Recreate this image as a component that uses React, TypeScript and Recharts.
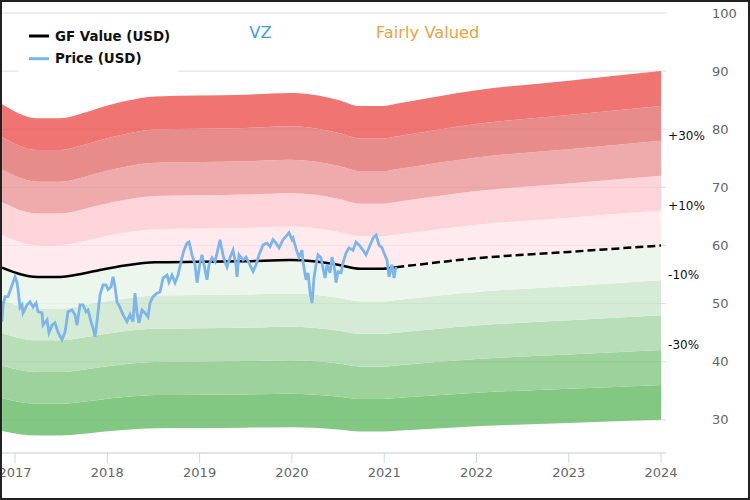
import React from "react";
import {
  ComposedChart,
  Area,
  Line,
  XAxis,
  YAxis,
  CartesianGrid,
  ReferenceLine,
  ReferenceDot,
} from "recharts";

const years = [2017, 2018, 2019, 2020, 2021, 2022, 2023, 2024];
const yTicks = [30, 40, 50, 60, 70, 80, 90, 100];

// GF Value (USD), decimal year -> value
const gfDates = [
  2016.86, 2017.24, 2017.49, 2017.74, 2017.92, 2018.21, 2018.52, 2019.0, 2019.5,
  2019.98, 2020.23, 2020.5, 2020.74, 2020.99, 2021.13, 2022.0, 2023.0, 2024.0,
];
const gfValues = [
  56.2, 54.6, 54.6, 55.2, 55.8, 56.6, 57.1, 57.2, 57.3, 57.5, 57.3, 56.7, 56.0,
  56.0, 56.25, 57.8, 58.9, 60.0,
];
const gfSplit = 2021.13; // solid up to here, estimate (dashed) after

// Price (USD)
const priceDates = [
  2016.859, 2016.87, 2016.892, 2016.924, 2016.968, 2017.0, 2017.022, 2017.033, 2017.054, 2017.076,
  2017.087, 2017.13, 2017.163, 2017.195, 2017.228, 2017.249, 2017.293, 2017.303, 2017.347, 2017.368,
  2017.401, 2017.433, 2017.466, 2017.509, 2017.542, 2017.574, 2017.618, 2017.65, 2017.672, 2017.704,
  2017.737, 2017.769, 2017.791, 2017.823, 2017.845, 2017.867, 2017.888, 2017.921, 2017.953, 2017.986,
  2018.008, 2018.04, 2018.062, 2018.083, 2018.105, 2018.138, 2018.17, 2018.213, 2018.246, 2018.278,
  2018.3, 2018.322, 2018.343, 2018.376, 2018.408, 2018.441, 2018.462, 2018.495, 2018.538, 2018.571,
  2018.604, 2018.647, 2018.668, 2018.701, 2018.734, 2018.766, 2018.809, 2018.831, 2018.863, 2018.885,
  2018.918, 2018.95, 2018.972, 2019.004, 2019.026, 2019.048, 2019.08, 2019.102, 2019.134, 2019.167,
  2019.189, 2019.221, 2019.253, 2019.275, 2019.297, 2019.329, 2019.362, 2019.394, 2019.405, 2019.427,
  2019.47, 2019.503, 2019.535, 2019.579, 2019.611, 2019.644, 2019.687, 2019.73, 2019.763, 2019.795,
  2019.828, 2019.86, 2019.904, 2019.947, 2019.969, 2020.001, 2020.012, 2020.055, 2020.077, 2020.11,
  2020.12, 2020.153, 2020.175, 2020.196, 2020.218, 2020.239, 2020.261, 2020.283, 2020.315, 2020.337,
  2020.359, 2020.38, 2020.413, 2020.434, 2020.456, 2020.478, 2020.499, 2020.532, 2020.554, 2020.586,
  2020.619, 2020.662, 2020.694, 2020.727, 2020.77, 2020.803, 2020.835, 2020.879, 2020.911, 2020.944,
  2020.976, 2020.998, 2021.03, 2021.052, 2021.084, 2021.106, 2021.128,
];
const priceValues = [
  46.9, 49.8, 51.2, 51.2, 53.2, 54.6, 53.6, 52.4, 49.3, 49.8,
  48.4, 49.8, 50.3, 49.4, 50.1, 48.6, 48.4, 46.3, 47.2, 45.0,
  46.3, 46.7, 45.1, 43.8, 45.1, 48.6, 48.9, 48.1, 46.3, 49.8,
  49.8, 48.6, 48.9, 46.9, 45.8, 44.3, 46.9, 51.5, 53.2, 53.2,
  52.4, 52.9, 54.6, 52.9, 50.3, 49.3, 48.1, 46.9, 48.1, 46.9,
  51.8, 48.4, 46.7, 48.9, 48.4, 47.7, 50.1, 51.2, 51.8, 52.0,
  54.4, 54.9, 53.7, 54.9, 53.6, 54.9, 57.9, 59.2, 60.4, 60.6,
  58.4, 56.7, 53.6, 57.0, 58.4, 56.7, 54.1, 56.7, 57.9, 57.2,
  58.7, 61.0, 58.4, 57.2, 56.3, 57.9, 59.2, 56.7, 54.6, 58.4,
  57.5, 58.0, 57.0, 55.5, 56.7, 58.4, 60.1, 60.4, 59.8, 61.0,
  60.4, 59.6, 61.0, 61.8, 62.2, 61.0, 61.3, 58.9, 58.0, 59.2,
  57.2, 54.1, 55.3, 52.0, 50.1, 54.4, 56.7, 58.4, 57.9, 56.1,
  54.4, 56.7, 55.3, 58.0, 56.7, 53.6, 55.5, 55.3, 57.0, 58.7,
  59.6, 59.2, 60.6, 60.1, 59.2, 58.4, 59.6, 61.3, 61.8, 60.1,
  59.6, 58.7, 57.5, 54.6, 56.7, 54.4, 56.3,
];

// bands of +/-10% around the GF Value, bottom to top
const bandSteps = [-5, -4, -3, -2, -1, 0, 1, 2, 3, 4];
const bandColors = [
  "#82c883", "#9dd29c", "#b8deb8", "#d5ebd5", "#edf6ed",
  "#ffebee", "#fdd4da", "#efabab", "#e88b8b", "#f07472",
];
const bandLabels = ["+30%", "+10%", "-10%", "-30%"];
const bandLabelPct = [30, 10, -10, -30];

const gfRows = gfDates.map((d, i) => ({ date: d, gf: gfValues[i] }));
const solidRows = gfRows.filter((r) => r.date <= gfSplit);
const dashRows = gfRows.filter((r) => r.date >= gfSplit);
const priceRows = priceDates.map((d, i) => ({ date: d, price: priceValues[i] }));
const gfEnd = gfValues[gfValues.length - 1];

const BandLabel = (props: any) => {
  const { viewBox, text } = props;
  if (!viewBox) return null;
  return (
    <text
      x={viewBox.x + 7}
      y={viewBox.y - 5}
      dominantBaseline="central"
      fontSize={12}
      fill="#111"
    >
      {text}
    </text>
  );
};

export default function App() {
  return (
    <div
      style={{
        position: "absolute",
        left: 0,
        top: 0,
        width: 750,
        height: 500,
        border: "2px solid #222",
        boxSizing: "border-box",
        overflow: "hidden",
        background: "#fff",
        fontFamily: '"DejaVu Sans", sans-serif',
      }}
    >
      <ComposedChart width={746} height={496} margin={{ top: 11, right: 0, bottom: 15, left: 0 }}>
        <CartesianGrid vertical={false} stroke="#e6e6e6" />
        <XAxis
          type="number"
          dataKey="date"
          domain={[2016.859, 2024.053]}
          ticks={years}
          interval={0}
          allowDataOverflow
          height={30}
          tickSize={10}
          tickMargin={5}
          tick={{ fill: "#666", fontSize: 13 }}
          tickLine={{ stroke: "#ccd6eb" }}
          axisLine={{ stroke: "#ccd6eb" }}
        />
        <YAxis
          orientation="right"
          domain={[24.3, 100]}
          ticks={yTicks}
          interval={0}
          allowDataOverflow
          width={82}
          axisLine={false}
          tickLine={false}
          tickMargin={40}
          tick={{ fill: "#666", fontSize: 13 }}
        />
        {bandSteps.map((k, i) => (
          <Area
            key={"band" + k}
            data={gfRows}
            dataKey={(r: any) => [r.gf * (1 + k / 10), r.gf * (1 + (k + 1) / 10)]}
            type="monotone"
            stroke="none"
            fill={bandColors[i]}
            fillOpacity={1}
            activeDot={false}
            isAnimationActive={false}
          />
        ))}
        {yTicks.map((t) => (
          <ReferenceLine key={"g" + t} y={t} stroke="#000" strokeOpacity={0.04} />
        ))}
        <Line
          data={solidRows}
          dataKey="gf"
          type="monotone"
          stroke="#000"
          strokeWidth={2.5}
          dot={false}
          activeDot={false}
          isAnimationActive={false}
        />
        <Line
          data={dashRows}
          dataKey="gf"
          type="monotone"
          stroke="#000"
          strokeWidth={2.5}
          strokeDasharray="8 4"
          dot={false}
          activeDot={false}
          isAnimationActive={false}
        />
        <Line
          data={priceRows}
          dataKey="price"
          type="linear"
          stroke="#7cb5ec"
          strokeWidth={2.8}
          dot={false}
          activeDot={false}
          isAnimationActive={false}
        />
        {bandLabels.map((txt, i) => (
          <ReferenceDot
            key={txt}
            x={2024}
            y={gfEnd * (1 + bandLabelPct[i] / 100)}
            r={0}
            stroke="none"
            fill="none"
            label={(p: any) => <BandLabel {...p} text={txt} />}
          />
        ))}
      </ComposedChart>
      <svg
        width={746}
        height={496}
        style={{ position: "absolute", left: 0, top: 0, pointerEvents: "none" }}
      >
        <rect x={16} y={18} width={160} height={58} fill="#fff" />
        <line x1={27} x2={47} y1={34} y2={34} stroke="#000" strokeWidth={3} />
        <text x={53} y={38.5} fontSize={13.4} fontWeight="bold" fill="#111">
          GF Value (USD)
        </text>
        <line x1={27} x2={47} y1={56.7} y2={56.7} stroke="#7cb5ec" strokeWidth={3} />
        <text x={53} y={61.3} fontSize={13.4} fontWeight="bold" fill="#111">
          Price (USD)
        </text>
        <text x={258.5} y={35.5} fontSize={16.3} textAnchor="middle" fill="#3d9ef0">
          VZ
        </text>
        <text x={374} y={35.5} fontSize={16.3} fill="#eba23f">
          Fairly Valued
        </text>
      </svg>
    </div>
  );
}
